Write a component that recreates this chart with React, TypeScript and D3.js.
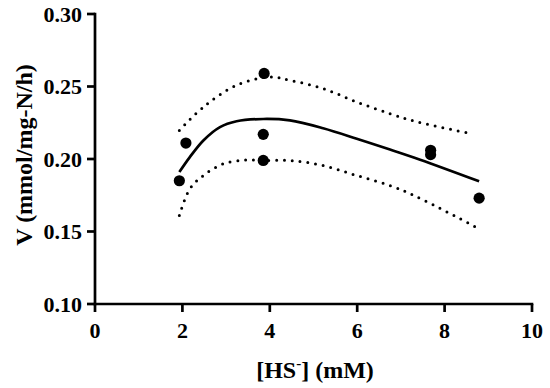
import { useMemo } from "react";
import * as d3 from "d3";

// measured points
const hsConc = [1.93, 2.08, 3.87, 3.85, 3.85, 7.68, 7.68, 8.79];
const rate = [0.185, 0.211, 0.259, 0.217, 0.199, 0.206, 0.203, 0.173];

// fitted curve
const fitX = [1.93, 2.17, 2.48, 2.86, 3.24, 3.85, 4.46, 5.22, 5.99, 6.75, 7.44, 8.79];
const fitY = [0.191, 0.2013, 0.2128, 0.222, 0.226, 0.2276, 0.2266, 0.2212, 0.214, 0.2065, 0.1995, 0.1846];

// 95% confidence bands
const upperX = [1.93, 2.48, 3.24, 4.0, 4.46, 5.22, 5.99, 6.75, 7.32, 8.62];
const upperY = [0.2197, 0.2358, 0.2509, 0.2566, 0.2543, 0.2486, 0.2393, 0.2313, 0.226, 0.2174];
const lowerX = [1.93, 2.17, 2.48, 2.94, 3.47, 3.85, 4.46, 5.22, 5.99, 6.75, 7.36, 8.7];
const lowerY = [0.161, 0.1794, 0.1886, 0.1967, 0.1994, 0.199, 0.199, 0.1955, 0.1886, 0.1817, 0.174, 0.1533];

const xTicks = [0, 2, 4, 6, 8, 10];
const yTicks = [0.1, 0.15, 0.2, 0.25, 0.3];

const font = "'Liberation Serif', 'Times New Roman', serif";

export default function App() {
  const width = 550;
  const height = 388;
  const margin = { left: 95, right: 18, top: 14, bottom: 84 };

  const x = d3.scaleLinear().domain([0, 10]).range([margin.left, width - margin.right]);
  const y = d3.scaleLinear().domain([0.1, 0.3]).range([height - margin.bottom, margin.top]);

  const paths = useMemo(() => {
    const line = d3
      .line<[number, number]>()
      .x((d) => x(d[0]))
      .y((d) => y(d[1]))
      .curve(d3.curveCatmullRom.alpha(0.5));
    const zip = (xs: number[], ys: number[]) => xs.map((v, i) => [v, ys[i]] as [number, number]);
    return {
      fit: line(zip(fitX, fitY)) ?? "",
      upper: line(zip(upperX, upperY)) ?? "",
      lower: line(zip(lowerX, lowerY)) ?? "",
    };
  }, []);

  const x0 = x(0);
  const y0 = y(0.1);

  return (
    <svg
      width={width}
      height={height}
      style={{ position: "absolute", left: 0, top: 0, background: "#fff" }}
      fontFamily={font}
      fontWeight="bold"
    >
      {/* confidence bands */}
      <path d={paths.upper} fill="none" stroke="#000" strokeWidth={3} strokeLinecap="round" strokeDasharray="0 7.8" />
      <path d={paths.lower} fill="none" stroke="#000" strokeWidth={3} strokeLinecap="round" strokeDasharray="0 7.8" />
      {/* fit */}
      <path d={paths.fit} fill="none" stroke="#000" strokeWidth={2.7} />
      {hsConc.map((c, i) => (
        <circle key={i} cx={x(c)} cy={y(rate[i])} r={5.6} fill="#000" />
      ))}

      {/* y axis */}
      <line x1={x0} x2={x0} y1={y(0.3) - 1.3} y2={y0 + 1.3} stroke="#000" strokeWidth={2.7} />
      {yTicks.map((t) => (
        <g key={t}>
          <line x1={x0 - 8} x2={x0} y1={y(t)} y2={y(t)} stroke="#000" strokeWidth={2.7} />
          <text x={x0 - 13} y={y(t)} dy="0.35em" textAnchor="end" fontSize={22}>
            {t.toFixed(2)}
          </text>
        </g>
      ))}

      {/* x axis */}
      <line x1={x0 - 1.3} x2={x(10) + 1.3} y1={y0} y2={y0} stroke="#000" strokeWidth={2.7} />
      {xTicks.map((t) => (
        <g key={t}>
          <line x1={x(t)} x2={x(t)} y1={y0} y2={y0 + 8} stroke="#000" strokeWidth={2.7} />
          <text x={x(t)} y={338} textAnchor="middle" fontSize={22}>
            {t}
          </text>
        </g>
      ))}

      <text x={315} y={378} textAnchor="middle" fontSize={24}>
        [HS<tspan fontSize={15} dy={-10}>-</tspan>
        <tspan dy={10}>] (mM)</tspan>
      </text>
      <text transform="translate(32, 155) rotate(-90)" textAnchor="middle" fontSize={24}>
        V (mmol/mg-N/h)
      </text>
    </svg>
  );
}
